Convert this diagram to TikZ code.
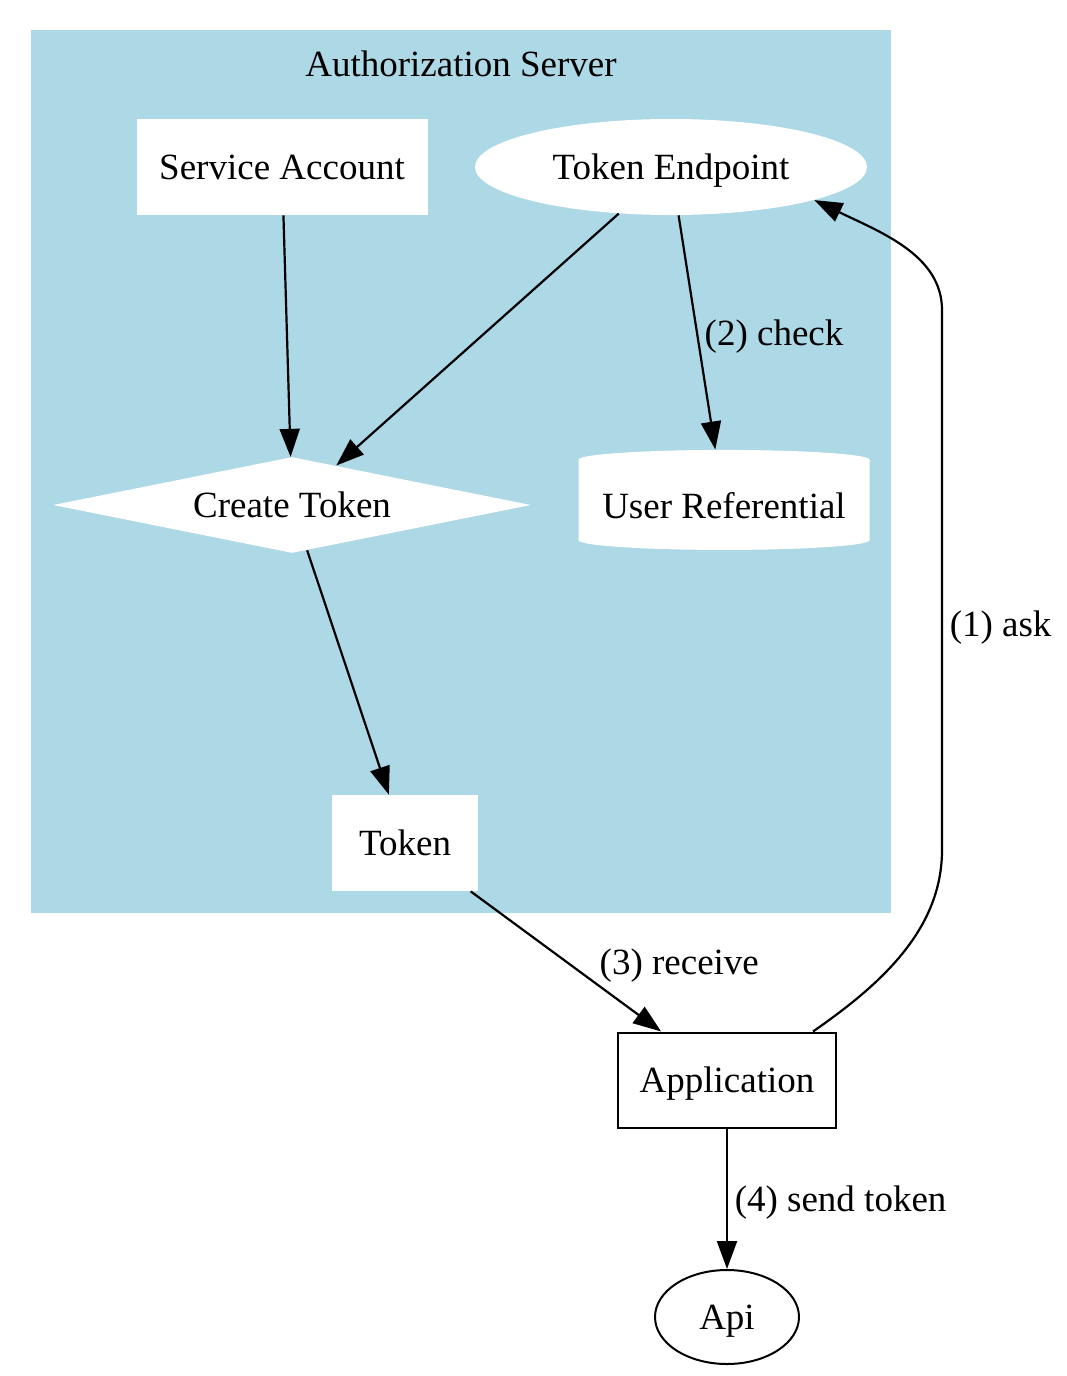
\documentclass[tikz,border=0pt]{standalone}
\usepackage{fontspec}
\setmainfont{Liberation Serif}
\usetikzlibrary{shapes.geometric, arrows.meta}
\definecolor{clusterblue}{RGB}{173,216,230}
\tikzstyle{box} = [rectangle, minimum width=145.5pt, minimum height=48pt, inner sep=0pt, fill=white]
\tikzstyle{endpoint} = [ellipse, minimum width=196pt, minimum height=48pt, inner sep=0pt, fill=white]
\tikzstyle{decision} = [diamond, aspect=5, minimum width=239pt, minimum height=48pt, inner sep=0pt, fill=white]
\tikzstyle{store} = [cylinder, shape border rotate=90, aspect=0.08, minimum width=145.5pt, minimum height=50pt, inner sep=0pt, fill=white]
\tikzstyle{client} = [rectangle, minimum width=109pt, minimum height=47.5pt, inner sep=0pt, draw=black, line width=1pt]
\tikzstyle{service} = [ellipse, minimum width=72pt, minimum height=47pt, inner sep=0pt, draw=black, line width=1pt]
\tikzstyle{arrow} = [line width=1.1pt, -{Triangle[length=14pt, width=10pt]}]

\begin{document}
\begin{tikzpicture}[x=0.5pt, y=-0.5pt, node distance=169pt, font=\fontsize{18.5}{22}\selectfont, every node/.append style={text depth=0pt}]
\useasboundingbox (0,0) rectangle (1066,1376);
\fill[clusterblue] (31,30) rectangle (891,913);
\node(title) at (461,64) {Authorization Server};

\node(account)[box] at (282,167) {Service Account};
\node(endp)[endpoint] at (671,167) {Token Endpoint};
\node(create)[decision, below of=account, xshift=5pt] {Create Token};
\node(referential)[store, below of=endp, xshift=26.5pt] {User Referential};
\node(token)[box, minimum width=73pt, below of=create, xshift=56.5pt] {Token};
\node(app)[client, below of=token, xshift=161pt, yshift=50.5pt] {Application};
\node(api)[service, below of=app, yshift=50.5pt] {Api};

\draw[arrow] (account) -- (create);
\draw[arrow] (endp) -- (create);
\draw[arrow] (endp) -- node[anchor=west]{(2) check} (referential);
\draw[arrow] (create) -- (token);
\draw[arrow] (token) -- node[anchor=west, xshift=13pt]{(3) receive} (app);
\draw[arrow] ([xshift=-12pt]app.north east) .. controls (880,985) and (942,930) .. (942,850)
  -- node[pos=0.42, anchor=west]{(1) ask} (942,310)
  .. controls (942,255) and (880,232) .. (endp.-13);
\draw[arrow] (app) -- node[anchor=west]{(4) send token} (api);

\end{tikzpicture}
\end{document}
